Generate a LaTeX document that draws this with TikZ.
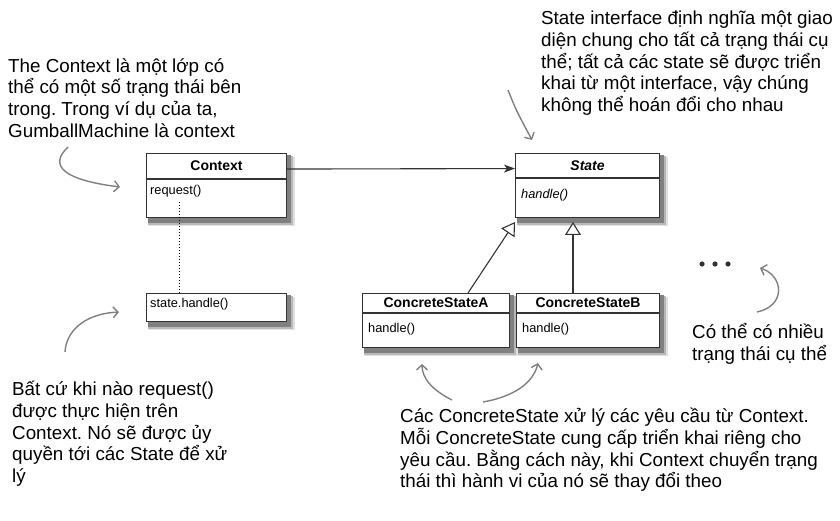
\documentclass[tikz,border=0pt]{standalone}
\usepackage{fontspec}
\setmainfont{Liberation Sans}
\usetikzlibrary{arrows.meta,backgrounds,positioning}
\frenchspacing

\begin{document}
\begin{tikzpicture}[x=1pt, y=1pt,
  box/.style={draw=black!80, line width=1.1pt, fill=white, inner sep=0pt, anchor=north west},
  classname/.style={box, font=\fontsize{14}{16}\selectfont\bfseries},
  method/.style={anchor=west, inner sep=0pt, font=\fontsize{12.8}{14}\selectfont},
  abstract/.style={method, font=\fontsize{12.8}{14}\selectfont\itshape},
  note/.style={anchor=north west, inner sep=0pt, align=left, font=\fontsize{18.8}{21.7}\selectfont},
  hint/.style={draw=black!50, line width=1.4pt, -{Straight Barb[length=5pt, width=11pt]}},
  realize/.style={draw=black!80, line width=1.1pt, -{Triangle[open, fill=white, length=13pt, width=16pt]}}]

\useasboundingbox (0,0) rectangle (840,-521);

\node [classname, minimum width=140pt, minimum height=25pt] (contexthead) at (146,-153) {Context};
\node [box, minimum width=140pt, minimum height=38pt, below=0pt of contexthead] (contextbody) {};
\node [method] (request) at ([shift={(4,-12)}]contextbody.north west) {request()};

\node [box, minimum width=140pt, minimum height=28pt] (callbox) at (146,-293) {};
\node [method] (call) at ([shift={(4,-11)}]callbox.north west) {state.handle()};

\node [classname, minimum width=144pt, minimum height=24pt] (statehead) at (515,-153) {\itshape State};
\node [box, minimum width=144pt, minimum height=39pt, below=0pt of statehead] (statebody) {};
\node [abstract] (handle) at ([shift={(6,-17)}]statebody.north west) {handle()};

\node [classname, minimum width=147pt, minimum height=19pt] (concAhead) at (362,-293) {ConcreteStateA};
\node [box, minimum width=147pt, minimum height=34pt, below=0pt of concAhead] (concAbody) {};
\node [method] (handleA) at ([shift={(6,-16)}]concAbody.north west) {handle()};

\node [classname, minimum width=143pt, minimum height=19pt] (concBhead) at (516,-293) {ConcreteStateB};
\node [box, minimum width=143pt, minimum height=34pt, below=0pt of concBhead] (concBbody) {};
\node [method] (handleB) at ([shift={(6,-16)}]concBbody.north west) {handle()};

\begin{scope}[on background layer]
\foreach \top/\bot in {contexthead/contextbody, callbox/callbox, statehead/statebody, concAhead/concAbody, concBhead/concBbody} {
  \fill [black!12] ([shift={(3,-4)}]\top.north west) rectangle ([shift={(8,-8)}]\bot.south east);
  \fill [black!28] ([shift={(2,-3)}]\top.north west) rectangle ([shift={(6,-6.5)}]\bot.south east);
  \fill [black!50] ([shift={(2,-2)}]\top.north west) rectangle ([shift={(4,-4.5)}]\bot.south east);
}
\end{scope}

\draw [black!80, line width=1.1pt, -{Stealth[length=11pt, width=8pt, inset=3pt]}] ([yshift=-3]contexthead.east) -- ([yshift=-3]statehead.west);

\coordinate (dotstart) at (179,-202);
\draw [dotted, line width=1pt] (dotstart) -- (dotstart |- callbox.north);

\coordinate (footA) at (468,-293);
\coordinate (tipA) at (515,-222);
\coordinate (tipB) at (573,-222);
\draw [realize] (footA) -- (tipA);
\draw [realize] (tipB |- concBhead.north) -- (tipB);

\foreach \x in {702,715,728}
  \fill [black!80] (\x,-264) circle (2.6pt);

\node [note] (contextnote) at (8,-58) {The Context là một lớp có\\thể có một số trạng thái bên\\trong. Trong ví dụ của ta,\\GumballMachine là context};
\node [note] (statenote) at (541,-11) {State interface định nghĩa một giao\\diện chung cho tất cả trạng thái cụ\\thể; tất cả các state sẽ được triển\\khai từ một interface, vậy chúng\\không thể hoán đổi cho nhau};
\node [note] (callnote) at (12,-381) {Bất cứ khi nào request()\\được thực hiện trên\\Context. Nó sẽ được ủy\\quyền tới các State để xử\\lý};
\node [note] (manynote) at (692,-323) {Có thể có nhiều\\trạng thái cụ thể};
\node [note] (concnote) at (400,-408) {Các ConcreteState xử lý các yêu cầu từ Context.\\Mỗi ConcreteState cung cấp triển khai riêng cho\\yêu cầu. Bằng cách này, khi Context chuyển trạng\\thái thì hành vi của nó sẽ thay đổi theo};

\coordinate (ctxfrom) at (68,-147);
\coordinate (ctxto) at (120,-187);
\draw [hint] (ctxfrom) .. controls (48,-166) and (64,-180) .. (ctxto);

\coordinate (callfrom) at (65,-352);
\coordinate (callto) at (119,-312);
\draw [hint] (callfrom) .. controls (66,-333) and (82,-314) .. (callto);

\coordinate (statefrom) at (508,-90);
\coordinate (stateto) at (532,-140);
\draw [hint] (statefrom) .. controls (516,-110) .. (stateto);

\coordinate (manyfrom) at (757,-312);
\coordinate (manyto) at (760,-268);
\draw [hint] (manyfrom) .. controls (786,-306) and (784,-276) .. (manyto);

\coordinate (concfromA) at (452,-400);
\coordinate (conctoA) at (422,-364);
\draw [hint] (concfromA) .. controls (432,-390) and (422,-378) .. (conctoA);

\coordinate (concfromB) at (483,-402);
\coordinate (conctoB) at (538,-363);
\draw [hint] (concfromB) .. controls (512,-397) and (533,-384) .. (conctoB);
\end{tikzpicture}
\end{document}
